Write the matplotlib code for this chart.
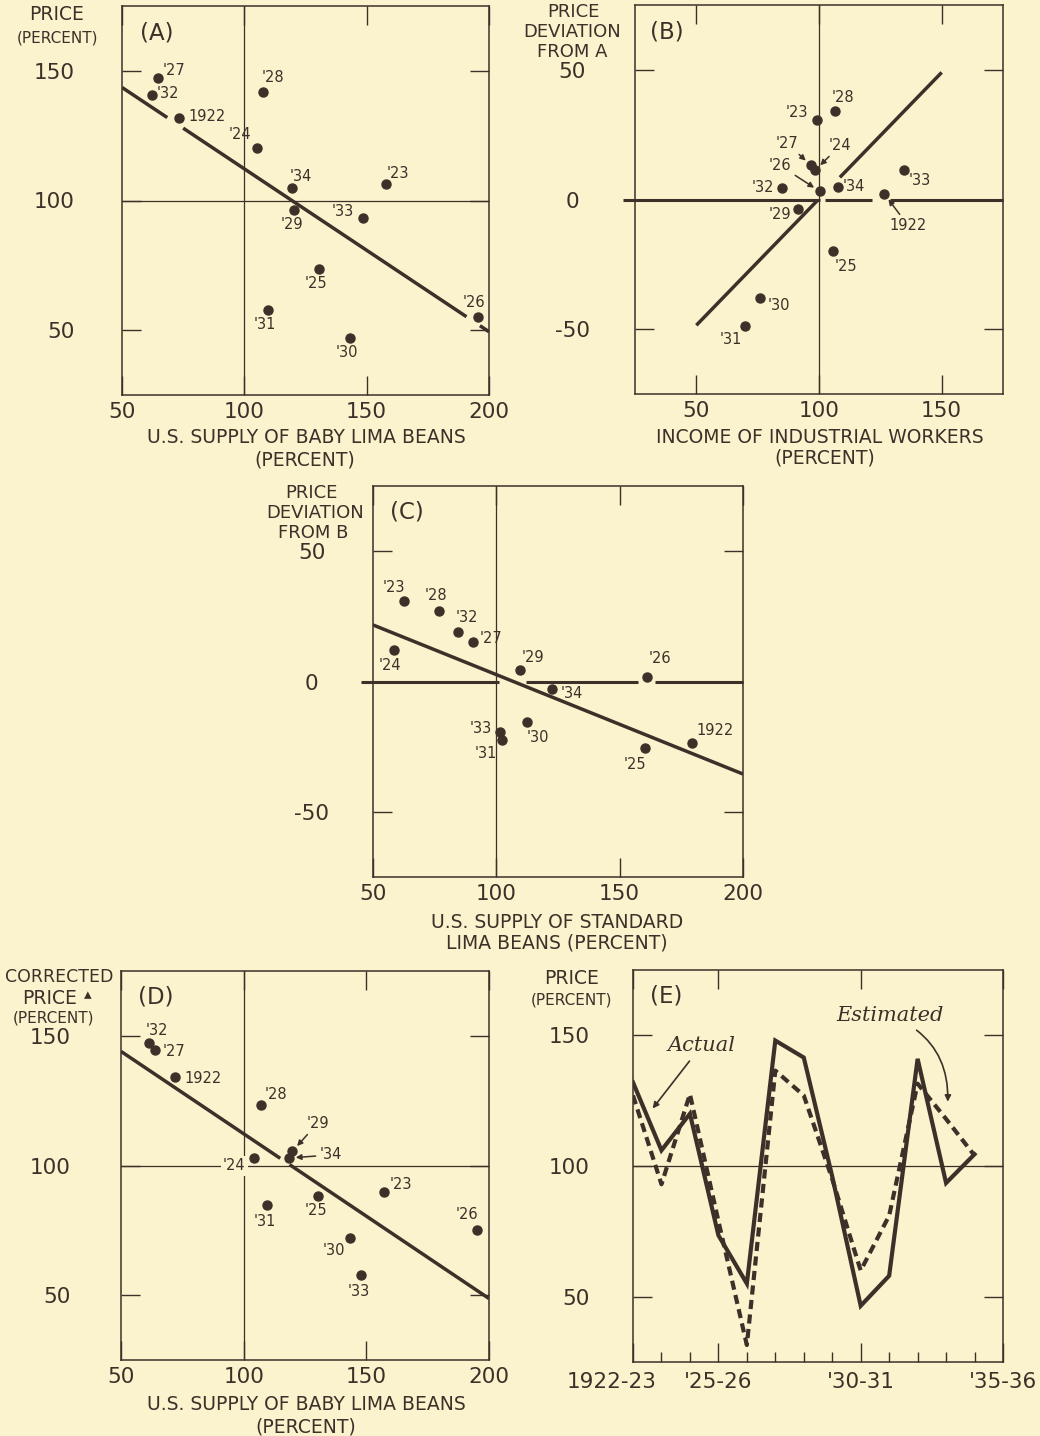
import numpy as np
import matplotlib.pyplot as plt
from matplotlib.transforms import ScaledTranslation

BG = '#fbf2ce'
INK = '#3b3129'
W, H = 1040, 1436

plt.rcParams['font.family'] = ['DejaVu Sans']
plt.rcParams['text.color'] = INK

years = ["1922", "'23", "'24", "'25", "'26", "'27", "'28", "'29", "'30", "'31", "'32", "'33", "'34"]

# (A) price against supply of baby lima beans
a_supply = [73.1, 157.9, 105.0, 130.4, 195.3, 64.8, 107.8, 120.3, 143.2, 109.7, 62.2, 148.6, 119.4]
a_price = [131.8, 106.3, 120.4, 73.6, 55.2, 147.4, 141.7, 96.3, 46.8, 57.8, 140.8, 93.1, 104.7]
a_fit_x = [50, 200]
a_fit_y = [143.6, 49.4]

# (B) deviation from A against income of industrial workers
b_income = [126.6, 99.3, 98.5, 105.6, 100.4, 96.7, 106.5, 91.5, 76.1, 69.8, 84.9, 134.6, 107.9]
b_dev = [2.2, 30.8, 11.3, -19.9, 3.1, 13.2, 34.0, -3.5, -37.8, -48.7, 4.5, 11.4, 4.9]
b_fit_x = [50, 150]
b_fit_y = [-48.5, 49.0]

# (C) deviation from B against supply of standard lima beans
c_supply = [179.4, 62.4, 58.5, 160.3, 161.2, 90.6, 76.9, 109.4, 112.6, 102.2, 84.5, 101.6, 122.7]
c_dev = [-23.6, 30.7, 12.0, -25.5, 1.9, 15.3, 27.1, 4.6, -15.7, -22.6, 19.0, -19.5, -2.9]
c_fit_x = [50, 200]
c_fit_y = [21.7, -35.5]

# (D) corrected price against supply of baby lima beans
d_supply = [72.1, 157.3, 104.4, 130.3, 195.1, 64.0, 107.1, 119.9, 143.4, 109.4, 61.3, 147.8, 118.4]
d_price = [134.0, 89.6, 102.9, 88.3, 75.0, 144.6, 123.5, 105.5, 72.1, 84.6, 147.2, 57.7, 102.9]
d_fit_x = [50, 200]
d_fit_y = [144.0, 48.7]

# (E) actual and estimated price, 1922-23 .. 1934-35
e_actual = [132, 106, 120, 73.5, 55, 148, 141.5, 96, 46.5, 58, 141, 93.5, 104.5]
e_estimated = [127, 93, 127.5, 79, 31.5, 136.5, 127, 95, 60, 81, 131.5, 118, 104]
e_tickpos = [0, 3, 8, 13]
e_ticklabels = ['1922-23', "'25-26", "'30-31", "'35-36"]

# label placement: (dx px, dy px, ha, arrow)
a_lab = [(10, 2, 'left', 0), (1, 11, 'left', 0), (-5, 13, 'right', 0), (-3, -15, 'center', 0),
         (-4, 14, 'center', 0), (4, 7, 'left', 0), (-2, 15, 'left', 0), (-2, -14, 'center', 0),
         (-3, -14, 'center', 0), (-3, -15, 'center', 0), (5, 1, 'left', 0), (-9, 7, 'right', 0),
         (-2, 12, 'left', 0)]
b_lab = [(24, -32, 'center', 1), (-9, 7, 'right', 0), (25, 25, 'center', 1), (2, -15, 'left', 0),
         (-40, 26, 'center', 1), (-24, 22, 'center', 1), (-3, 14, 'left', 0), (-7, -6, 'right', 0),
         (7, -8, 'left', 0), (-14, -14, 'center', 0), (-8, 0, 'right', 0), (5, -11, 'left', 0),
         (4, 0, 'left', 0)]
c_lab = [(4, 13, 'left', 0), (-10, 14, 'center', 0), (-4, -15, 'center', 0), (-10, -17, 'center', 0),
         (1, 18, 'left', 0), (6, 3, 'left', 0), (-3, 15, 'center', 0), (2, 12, 'left', 0),
         (-1, -15, 'left', 0), (-5, -13, 'right', 0), (9, 14, 'center', 0), (-8, 4, 'right', 0),
         (8, -4, 'left', 0)]
d_lab = [(9, -1, 'left', 0), (5, 8, 'left', 0), (-9, -8, 'right', 2), (-2, -15, 'center', 0),
         (-10, 16, 'center', 0), (7, -2, 'left', 0), (4, 10, 'left', 0), (25, 28, 'center', 1),
         (-16, -13, 'center', 0), (-2, -16, 'center', 0), (-3, 13, 'left', 0), (-2, -16, 'center', 0),
         (31, 3, 'left', 1)]

fig = plt.figure(figsize=(W / 100, H / 100), dpi=100, facecolor=BG)


def px_axes(l, t, r, b):
    return fig.add_axes([l / W, 1 - b / H, (r - l) / W, (b - t) / H], facecolor=BG)


def ftext(x, y, s, size=13.5, **kw):
    fig.text(x / W, 1 - y / H, s, ha=kw.pop('ha', 'center'), va='center', fontsize=size, color=INK, **kw)


def frame(ax, xlim, ylim, xt, yt, ypad, yha='right'):
    ax.set_xlim(xlim)
    ax.set_ylim(ylim)
    ax.set_xticks(xt, [str(v) for v in xt])
    ax.set_yticks(yt, [str(v) for v in yt], ha=yha)
    ax.tick_params(direction='in', length=13.5, width=1, color=INK, labelcolor=INK,
                   labelsize=15.5, top=True, right=True)
    ax.tick_params(axis='x', pad=5)
    ax.tick_params(axis='y', pad=ypad)
    for s in ax.spines.values():
        s.set_linewidth(1.1)
        s.set_color(INK)


def fit_line(ax, xe, ye, gaps=()):
    edges = [xe[0]] + [g for gap in gaps for g in gap] + [xe[1]]
    for x0, x1 in zip(edges[::2], edges[1::2]):
        xs = [x0, x1]
        ax.plot(xs, np.interp(xs, xe, ye), color=INK, lw=2.5, solid_capstyle='butt', zorder=3)


def zero_line(ax, edges):
    for x0, x1 in zip(edges[::2], edges[1::2]):
        ax.plot([x0, x1], [0, 0], color=INK, lw=2.2, solid_capstyle='butt', clip_on=False, zorder=3)


def points(ax, xs, ys, labs):
    ax.plot(xs, ys, 'o', ms=6.5, color=INK, zorder=4, clip_on=False)
    for x, y, name, (dx, dy, ha, arr) in zip(xs, ys, years, labs):
        kw = dict(xy=(x, y), xytext=(dx, dy), textcoords='offset pixels', ha=ha, va='center',
                  fontsize=10.5, color=INK, zorder=5)
        if arr == 1:
            kw['arrowprops'] = dict(arrowstyle='-|>', color=INK, lw=1.1, mutation_scale=8,
                                    shrinkA=1, shrinkB=5)
        if arr == 2:
            kw['bbox'] = dict(boxstyle='square,pad=0.15', fc=BG, ec='none')
        ax.annotate(name, **kw)


# ---- (A)
axA = px_axes(122, 6, 489, 395)
frame(axA, (50, 200), (25, 175), [50, 100, 150, 200], [50, 100, 150], 34)
axA.axvline(100, color=INK, lw=0.9)
axA.axhline(100, color=INK, lw=0.9)
fit_line(axA, a_fit_x, a_fit_y, gaps=[(68.5, 75), (190.8, 196.3)])
points(axA, a_supply, a_price, a_lab)
axA.text(0.049, 0.93, '(A)', transform=axA.transAxes, fontsize=16.5, va='center')
ftext(57, 15, 'PRICE')
ftext(57, 38, '(PERCENT)', size=11)
ftext(306, 437, 'U.S. SUPPLY OF BABY LIMA BEANS')
ftext(305, 460, '(PERCENT)')

# ---- (B)
axB = px_axes(635, 5, 1003, 394)
frame(axB, (25, 175), (-75, 75), [50, 100, 150], [-50, 0, 50], 45, yha='center')
axB.axvline(100, color=INK, lw=0.9)
zero_line(axB, [20.3, 100.3, 102.4, 121.5, 129, 175])
fit_line(axB, b_fit_x, b_fit_y, gaps=[(99.5, 108.5)])
points(axB, b_income, b_dev, b_lab)
axB.text(0.041, 0.93, '(B)', transform=axB.transAxes, fontsize=16.5, va='center')
ftext(573, 12, 'PRICE', size=13)
ftext(572, 32, 'DEVIATION', size=13)
ftext(572, 52, 'FROM A', size=13)
ftext(820, 437, 'INCOME OF INDUSTRIAL WORKERS')
ftext(825, 458, '(PERCENT)')

# ---- (C)
axC = px_axes(373, 486, 743, 877)
frame(axC, (50, 200), (-75, 75), [50, 100, 150, 200], [-50, 0, 50], 44, yha='center')
axC.axvline(100, color=INK, lw=0.9)
zero_line(axC, [45.3, 101, 112.2, 157.6, 164.3, 200])
fit_line(axC, c_fit_x, c_fit_y)
points(axC, c_supply, c_dev, c_lab)
axC.text(0.045, 0.933, '(C)', transform=axC.transAxes, fontsize=16.5, va='center')
ftext(311, 493, 'PRICE', size=13)
ftext(315, 513, 'DEVIATION', size=13)
ftext(313, 533, 'FROM B', size=13)
ftext(557, 922, 'U.S. SUPPLY OF STANDARD')
ftext(557, 943, 'LIMA BEANS (PERCENT)')

# ---- (D)
axD = px_axes(121, 971, 489, 1360)
frame(axD, (50, 200), (25, 175), [50, 100, 150, 200], [50, 100, 150], 36)
axD.axvline(100, color=INK, lw=0.9)
axD.axhline(100, color=INK, lw=0.9)
fit_line(axD, d_fit_x, d_fit_y, gaps=[(114.9, 118.7)])
points(axD, d_supply, d_price, d_lab)
axD.text(0.045, 0.933, '(D)', transform=axD.transAxes, fontsize=16.5, va='center')
ftext(59, 977, 'CORRECTED', size=12.5)
ftext(50, 998, 'PRICE')
ftext(88, 995, '\u25b4', size=11)
ftext(54, 1018, '(PERCENT)', size=11)
ftext(306, 1405, 'U.S. SUPPLY OF BABY LIMA BEANS')
ftext(306, 1427, '(PERCENT)')

# ---- (E)
axE = px_axes(633, 970, 1003, 1362)
frame(axE, (0, 13), (25, 175), e_tickpos, [50, 100, 150], 31)
axE.set_xticks(e_tickpos, e_ticklabels)
axE.set_xticks(np.arange(14), minor=True)
axE.tick_params(axis='x', which='minor', direction='in', length=7, width=1, color=INK,
                top=False, bottom=True)
axE.tick_params(axis='x', which='major', pad=7)
lbl0 = axE.get_xticklabels()[0]
lbl0.set_transform(lbl0.get_transform() + ScaledTranslation(-0.21, 0, fig.dpi_scale_trans))
axE.axhline(100, color=INK, lw=0.9)
yrs = np.arange(len(e_actual))
axE.plot(yrs, e_actual, color=INK, lw=3, solid_joinstyle='miter', zorder=3)
axE.plot(yrs, e_estimated, color=INK, lw=3, ls=(0, (2.2, 1.3)), zorder=3)
axE.text(0.045, 0.933, '(E)', transform=axE.transAxes, fontsize=16.5, va='center')
axE.annotate('Actual', xy=(0.69, 122), xytext=(2.41, 146.1), ha='center', va='center',
             fontsize=15, family='DejaVu Serif', style='italic', color=INK,
             arrowprops=dict(arrowstyle='-|>', color=INK, lw=1.2, mutation_scale=9,
                             shrinkA=3, shrinkB=0))
axE.annotate('Estimated', xy=(11.06, 124.6), xytext=(9.02, 157.6), ha='center', va='center',
             fontsize=15, family='DejaVu Serif', style='italic', color=INK,
             arrowprops=dict(arrowstyle='-|>', color=INK, lw=1.2, mutation_scale=9,
                             shrinkA=3, shrinkB=0, connectionstyle='arc3,rad=-0.35'))
ftext(572, 978, 'PRICE')
ftext(572, 1000, '(PERCENT)', size=11)

fig.savefig('out.png', dpi=100, facecolor=BG)
